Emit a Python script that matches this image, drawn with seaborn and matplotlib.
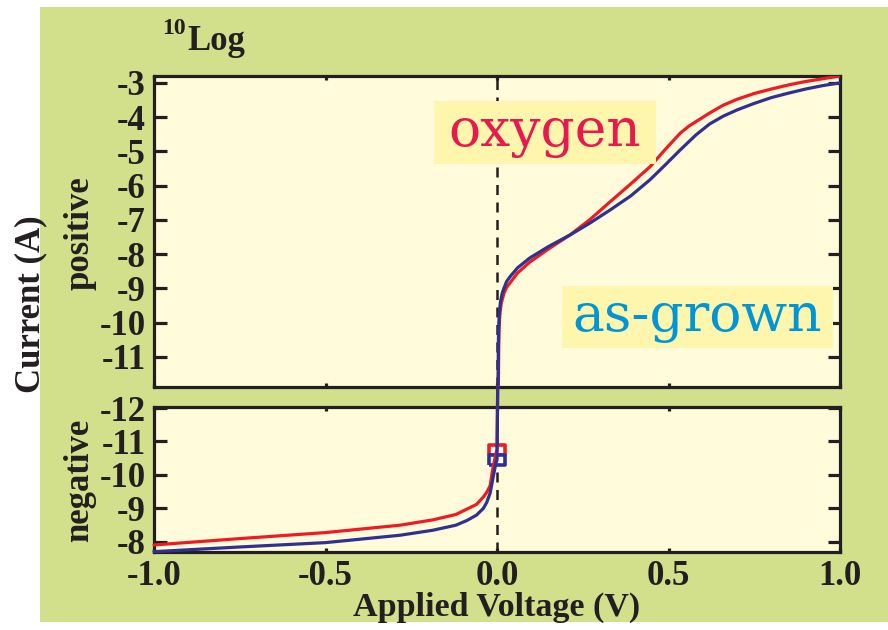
import matplotlib
matplotlib.use("Agg")
import matplotlib.pyplot as plt
import seaborn as sns
import pandas as pd
from matplotlib.patches import Rectangle

# log10 |I| (A) versus applied voltage (V)
# positive (forward) branch
pos_v_oxygen = [0.004, 0.005, 0.006, 0.008, 0.012, 0.02, 0.028, 0.038, 0.06, 0.096,
                0.15, 0.213, 0.27, 0.33, 0.39, 0.446, 0.49, 0.534, 0.56, 0.59,
                0.62, 0.66, 0.7, 0.75, 0.8, 0.85, 0.9, 0.95, 1.0]
pos_i_oxygen = [-11.9, -10.8, -10.2, -9.8, -9.45, -9.15, -8.97, -8.84, -8.55, -8.23,
                -7.85, -7.44, -7.0, -6.47, -5.95, -5.45, -4.95, -4.47, -4.26, -4.07,
                -3.88, -3.65, -3.48, -3.31, -3.18, -3.06, -2.96, -2.88, -2.8]
pos_v_grown = [0.003, 0.004, 0.005, 0.007, 0.01, 0.015, 0.02, 0.028, 0.038, 0.06,
               0.096, 0.15, 0.213, 0.27, 0.33, 0.39, 0.446, 0.49, 0.534, 0.58,
               0.62, 0.66, 0.7, 0.75, 0.8, 0.85, 0.9, 0.95, 1.0]
pos_i_grown = [-11.9, -10.6, -10.1, -9.7, -9.4, -9.15, -9.0, -8.8, -8.66, -8.4,
               -8.11, -7.78, -7.44, -7.1, -6.71, -6.3, -5.83, -5.4, -4.96, -4.52,
               -4.2, -3.97, -3.79, -3.6, -3.43, -3.3, -3.18, -3.08, -3.0]

# negative (reverse) branch
neg_v_oxygen = [-1.0, -0.75, -0.5, -0.283, -0.187, -0.12, -0.088, -0.06, -0.04,
                -0.03, -0.02, -0.012, -0.004, 0.0, 0.002]
neg_i_oxygen = [-7.91, -8.1, -8.28, -8.5, -8.66, -8.82, -8.98, -9.12, -9.34,
                -9.48, -9.68, -10.2, -10.6, -10.75, -12.6]
neg_v_grown = [-1.0, -0.75, -0.5, -0.283, -0.187, -0.12, -0.088, -0.06, -0.04,
               -0.03, -0.02, -0.01, -0.004, 0.0, 0.002]
neg_i_grown = [-7.71, -7.85, -7.98, -8.2, -8.35, -8.5, -8.64, -8.8, -9.0,
               -9.18, -9.46, -10.0, -10.32, -10.45, -12.6]

# zero-bias points
zero_v = [0.0]
zero_i_oxygen = [-10.75]
zero_i_grown = [-10.45]

x_ticks = [-1.0, -0.5, 0.0, 0.5, 1.0]
x_tick_labels = ["-1.0", "-0.5", "0.0", "0.5", "1.0"]
pos_ticks = [-11, -10, -9, -8, -7, -6, -5, -4, -3]
neg_ticks = [-12, -11, -10, -9, -8]

RED = "#ed1c24"
BLUE = "#2e3192"
GREEN = "#d2e08c"
CREAM = "#fffbdb"
BOX = "#fff6ae"
INK = "#231f20"

sns.set_theme(style="ticks")
plt.rcParams["font.family"] = ["Liberation Serif", "DejaVu Serif"]
plt.rcParams["font.weight"] = "bold"
plt.rcParams["axes.unicode_minus"] = False

fig = plt.figure(figsize=(8.88, 6.30), dpi=100, facecolor="white")
fig.patches.append(Rectangle((40 / 888, 1 - 622 / 630), 1 - 40 / 888, (622 - 7) / 630,
                             transform=fig.transFigure, facecolor=GREEN,
                             edgecolor="none", zorder=-10))

ax_top = fig.add_axes([154 / 888, 1 - 387 / 630, 686 / 888, 311 / 630])
ax_bot = fig.add_axes([154 / 888, 1 - 552 / 630, 686 / 888, 145 / 630])

pos_ox = pd.DataFrame({"V": pos_v_oxygen, "logI": pos_i_oxygen})
pos_gr = pd.DataFrame({"V": pos_v_grown, "logI": pos_i_grown})
neg_ox = pd.DataFrame({"V": neg_v_oxygen, "logI": neg_i_oxygen})
neg_gr = pd.DataFrame({"V": neg_v_grown, "logI": neg_i_grown})

for ax in (ax_top, ax_bot):
    ax.set_facecolor(CREAM)
    ax.axvline(0.0, color=INK, lw=1.8, ls=(0, (4, 3)), zorder=1)
    for side in ("left", "right", "top", "bottom"):
        ax.spines[side].set_visible(True)
        ax.spines[side].set_color(INK)
        ax.spines[side].set_linewidth(2.3)
    ax.set_xlim(-1.0, 1.0)
    ax.set_xticks(x_ticks)
    ax.tick_params(axis="y", direction="in", left=True, right=True, length=9,
                   width=2.3, color=INK, labelsize=25, pad=6, labelcolor=INK)
    ax.tick_params(axis="x", direction="in", top=True, bottom=True, length=3,
                   width=2.3, color=INK, labelsize=25, pad=6, labelcolor=INK)

# positive branch
sns.lineplot(data=pos_ox, x="V", y="logI", ax=ax_top, color=RED, lw=2.3,
             sort=False, estimator=None, zorder=3)
sns.lineplot(data=pos_gr, x="V", y="logI", ax=ax_top, color=BLUE, lw=2.3,
             sort=False, estimator=None, zorder=3)
ax_top.set_ylim(-11.88, -2.8)
ax_top.set_yticks(pos_ticks)
ax_top.set_yticklabels([str(t) for t in pos_ticks])
ax_top.set_xticklabels([])
ax_top.set_xlabel("")
ax_top.set_ylabel("")

# negative branch, with the zero-bias points as wide open boxes
box_marker = [(-1.5, -1), (1.5, -1), (1.5, 1), (-1.5, 1), (-1.5, -1)]
sns.scatterplot(x=zero_v, y=zero_i_oxygen, ax=ax_bot, marker=box_marker, s=135,
                facecolor="white", edgecolor=RED, linewidth=2.6, zorder=2)
sns.scatterplot(x=zero_v, y=zero_i_grown, ax=ax_bot, marker=box_marker, s=135,
                facecolor="white", edgecolor=BLUE, linewidth=2.6, zorder=2)
sns.lineplot(data=neg_ox, x="V", y="logI", ax=ax_bot, color=RED, lw=2.3,
             sort=False, estimator=None, zorder=3)
sns.lineplot(data=neg_gr, x="V", y="logI", ax=ax_bot, color=BLUE, lw=2.3,
             sort=False, estimator=None, zorder=3)
for ln in ax_bot.lines:
    if ln.get_color() in (RED, BLUE):
        ln.set_clip_on(False)
ax_bot.set_ylim(-7.7, -12.03)
ax_bot.set_yticks(neg_ticks)
ax_bot.set_yticklabels([str(t) for t in neg_ticks])
ax_bot.set_xticklabels(x_tick_labels)
ax_bot.set_xlabel("")
ax_bot.set_ylabel("")

# series labels
ax_top.text(0.14, -4.46, "oxygen", family="DejaVu Serif", fontweight="normal",
            fontsize=38.5, color="#e8194f", ha="center", va="center", zorder=5,
            bbox=dict(boxstyle="square,pad=0.27", mutation_aspect=0.42,
                      facecolor=BOX, edgecolor="none"))
ax_top.text(0.585, -9.84, "as-grown", family="DejaVu Serif", fontweight="normal",
            fontsize=38.5, color="#0096d6", ha="center", va="center", zorder=5,
            bbox=dict(boxstyle="square,pad=0.2", mutation_aspect=0.5,
                      facecolor=BOX, edgecolor="none"))

# axis titles
fig.text(497 / 888, 1 - 607 / 630, "Applied Voltage (V)", ha="center", va="center",
         fontsize=24.5, fontweight="bold", color=INK)
fig.text(31 / 888, 1 - 304 / 630, "Current (A)", ha="center", va="center",
         rotation=90, fontsize=25, fontweight="bold", color=INK)
fig.text(80 / 888, 1 - 233 / 630, "positive", ha="center", va="center",
         rotation=90, fontsize=25, fontweight="bold", color=INK)
fig.text(80 / 888, 1 - 480 / 630, "negative", ha="center", va="center",
         rotation=90, fontsize=25, fontweight="bold", color=INK)
fig.text(187 / 888, 1 - 41 / 630, "Log", ha="left", va="center",
         fontsize=25, fontweight="bold", color=INK)
fig.text(186 / 888, 1 - 28 / 630, "10", ha="right", va="center",
         fontsize=17, fontweight="bold", color=INK)

fig.savefig("out.png", dpi=100, facecolor="white")
